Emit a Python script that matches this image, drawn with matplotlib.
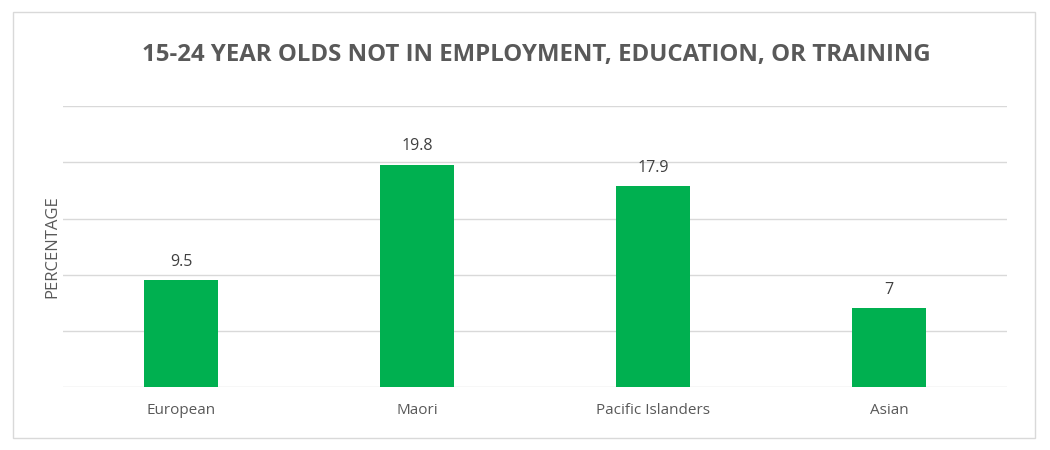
import matplotlib.pyplot as plt
from matplotlib.patches import Rectangle

# Data
groups = ['European', 'Maori', 'Pacific Islanders', 'Asian']
neet_pct = [9.5, 19.8, 17.9, 7]

GREEN = '#00B050'
TEXT = '#595959'
GRID = '#D9D9D9'

plt.rcParams['font.family'] = ['Open Sans', 'DejaVu Sans']

fig = plt.figure(figsize=(10.5, 4.5), dpi=100)
ax = fig.add_axes([0.06, 0.14, 0.899, 0.624])

x = range(len(groups))
bars = ax.bar(x, neet_pct, width=0.31, color=GREEN, zorder=3)

# value labels above bars
for bar, v in zip(bars, neet_pct):
    ax.text(bar.get_x() + bar.get_width() / 2, v + 0.9, f'{v:g}',
            ha='center', va='bottom', fontsize=11.5, color='#404040')

ax.set_xlim(-0.5, len(groups) - 0.5)
ax.set_ylim(0, 25)
ax.set_yticks([0, 5, 10, 15, 20, 25])
ax.yaxis.grid(True, color=GRID, linewidth=1, zorder=0)
ax.tick_params(axis='y', left=False, labelleft=False)
ax.tick_params(axis='x', bottom=False, colors=TEXT, labelsize=11, pad=8)
ax.set_xticks(list(x))
ax.set_xticklabels(groups)
for s in ax.spines.values():
    s.set_visible(False)

ax.set_ylabel('PERCENTAGE', color=TEXT, fontsize=12, labelpad=2)

fig.text(0.511, 0.877, '15-24 YEAR OLDS NOT IN EMPLOYMENT, EDUCATION, OR TRAINING',
         ha='center', va='center', fontsize=17.3, fontweight='bold', color=TEXT)

# light chart border
fig.patches.append(Rectangle((0.012, 0.027), 0.974, 0.947, transform=fig.transFigure,
                             fill=False, edgecolor='#D9D9D9', linewidth=1))

fig.savefig('out.png', dpi=100)
